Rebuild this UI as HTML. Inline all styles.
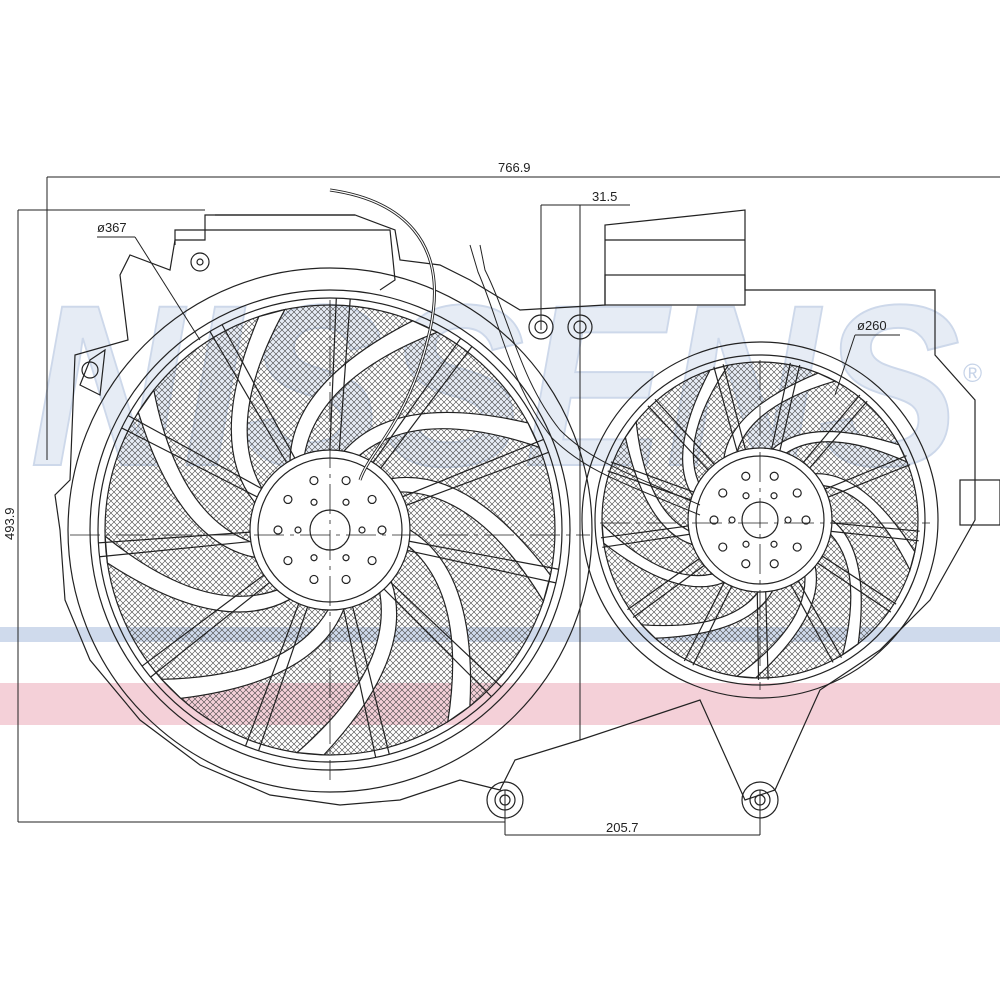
<!DOCTYPE html>
<html><head><meta charset="utf-8"><style>
html,body{margin:0;padding:0;background:#fff;width:1000px;height:1000px;overflow:hidden}
svg{display:block}
text{font-family:"Liberation Sans",sans-serif;fill:#222}
</style></head><body>
<svg id="s" width="1000" height="1000" viewBox="0 0 1000 1000" xmlns="http://www.w3.org/2000/svg">
<defs>
<pattern id="h" width="6" height="6" patternUnits="userSpaceOnUse">
<path d="M0 0L6 6M6 0L0 6" stroke="#444" stroke-width="0.6"/>
</pattern>
</defs>
<text x="30" y="465" font-size="230" font-style="italic" font-weight="bold" stroke="#cdd8ea" stroke-width="2" textLength="930" lengthAdjust="spacingAndGlyphs" style="fill:#e6ecf5">NISSENS</text>
<text x="963" y="382" font-size="26" style="fill:#c6d3e8">®</text>
<rect x="0" y="627" width="1000" height="15" fill="#cfdaec"/>
<rect x="0" y="683" width="1000" height="42" fill="#f4d0d8"/>
<g id="g" fill="none" stroke="#222" stroke-width="1.2"></g>
<g stroke="#222" stroke-width="1" fill="none">
<line x1="47" y1="177" x2="1000" y2="177"/>
<line x1="47" y1="177" x2="47" y2="460"/>
<line x1="18" y1="210" x2="205" y2="210"/>
<line x1="18" y1="210" x2="18" y2="822"/>
<line x1="18" y1="822" x2="505" y2="822"/>
<line x1="541" y1="205" x2="541" y2="330"/>
<line x1="580" y1="205" x2="580" y2="740"/>
<line x1="541" y1="205" x2="630" y2="205"/>
<line x1="505" y1="790" x2="505" y2="835"/>
<line x1="760" y1="790" x2="760" y2="835"/>
<line x1="505" y1="835" x2="760" y2="835"/>
<line x1="97" y1="237" x2="135" y2="237"/>
<line x1="135" y1="237" x2="200" y2="340"/>
<line x1="855" y1="335" x2="900" y2="335"/>
<line x1="855" y1="335" x2="835" y2="395"/>
</g>
<text x="498" y="172" font-size="13">766.9</text>
<text x="592" y="201" font-size="13">31.5</text>
<text x="97" y="232" font-size="13">ø367</text>
<text x="857" y="330" font-size="13">ø260</text>
<text x="606" y="832" font-size="13">205.7</text>
<text x="14" y="540" font-size="13" transform="rotate(-90 14 540)">493.9</text>
</svg>
<script>
var g=document.getElementById('g'),NS="http://www.w3.org/2000/svg";
function el(t,a){var e=document.createElementNS(NS,t);for(var k in a)e.setAttribute(k,a[k]);g.appendChild(e);return e;}
function c(x,y,r,extra){var a={cx:x,cy:y,r:r};for(var k in extra)a[k]=extra[k];return el('circle',a);}
el('path',{d:"M205 215 L205 240 L175 240 L170 270 L130 255 L120 275 L128 340 L75 355 L70 480 L55 495 L60 530 L65 600 L90 660 L140 720 L200 765 L270 795 L340 805 L400 800 L460 780 L500 790 L515 760 L580 740 L640 720 L700 700 L745 800 L775 790 L820 690 L880 650 L930 600 L975 520 L975 400 L935 355 L935 290 L745 290 L745 210 L700 215 L605 225 L605 305 L520 310 L470 280 L440 265 L400 260 L395 230 L355 215 Z"});
el('path',{d:"M90 360 L105 350 L100 395 L80 385 Z"});
c(90,370,8);
var B=[330,530];
c(B[0],B[1],262);c(B[0],B[1],240);c(B[0],B[1],232);
c(B[0],B[1],225,{fill:"url(#h)",stroke:"#222"});
var S=[760,520];
c(S[0],S[1],178);c(S[0],S[1],165);c(S[0],S[1],158,{fill:"url(#h)",stroke:"#222"});
function blades(cx,cy,r0,r1,n,sweep){
 for(var i=0;i<n;i++){
  var a=i*2*Math.PI/n, a2=a+sweep, w=0.12;
  var p=function(r,t){return (cx+r*Math.cos(t)).toFixed(1)+" "+(cy+r*Math.sin(t)).toFixed(1);};
  el('path',{d:"M"+p(r0,a)+" Q"+p((r0+r1)/2,a+sweep*0.3)+" "+p(r1,a2)+" L"+p(r1,a2+w)+" Q"+p((r0+r1)/2,a+sweep*0.3+w*1.5)+" "+p(r0,a+0.2)+" Z",fill:"#fff"});
 }
}
blades(B[0],B[1],80,225,9,0.9);
blades(S[0],S[1],72,158,9,0.9);
function struts(cx,cy,r0,r1,n,off){
 for(var i=0;i<n;i++){var a=off+i*2*Math.PI/n;
  for(var d=-0.03;d<=0.03;d+=0.06){
   el('line',{x1:cx+r0*Math.cos(a+d*2),y1:cy+r0*Math.sin(a+d*2),x2:cx+r1*Math.cos(a+d),y2:cy+r1*Math.sin(a+d)});
  }}
}
struts(B[0],B[1],78,232,11,0.2);
struts(S[0],S[1],70,160,13,0.1);
c(B[0],B[1],80,{fill:"#fff"});c(B[0],B[1],72);c(B[0],B[1],20);
c(S[0],S[1],72,{fill:"#fff"});c(S[0],S[1],64);c(S[0],S[1],18);
function holes(cx,cy,r,n,s){for(var i=0;i<n;i++){var a=i*2*Math.PI/n;c(cx+r*Math.cos(a),cy+r*Math.sin(a),s);}}
holes(B[0],B[1],52,10,4);holes(B[0],B[1],32,6,3);
holes(S[0],S[1],46,10,4);holes(S[0],S[1],28,6,3);
el('line',{x1:70,y1:535,x2:590,y2:535,"stroke-dasharray":"30 6 4 6","stroke-width":0.8});
el('line',{x1:330,y1:300,x2:330,y2:780,"stroke-dasharray":"30 6 4 6","stroke-width":0.8});
el('line',{x1:600,y1:523,x2:930,y2:523,"stroke-dasharray":"30 6 4 6","stroke-width":0.8});
el('line',{x1:760,y1:360,x2:760,y2:690,"stroke-dasharray":"30 6 4 6","stroke-width":0.8});
el('path',{d:"M330 190 C400 200 450 240 430 330 C410 420 370 450 360 480",fill:"none","stroke-width":3});
el('path',{d:"M330 190 C400 200 450 240 430 330 C410 420 370 450 360 480",fill:"none",stroke:"#fff","stroke-width":1.2});
el('path',{d:"M480 245 L485 270 C510 320 520 380 560 430 C590 460 620 470 700 505",fill:"none","stroke-width":1});
el('path',{d:"M470 245 L478 272 C500 322 510 385 552 438 C585 470 615 480 700 515",fill:"none","stroke-width":1});
c(505,800,18);c(505,800,10);c(505,800,5);
c(760,800,18);c(760,800,10);c(760,800,5);
c(541,327,12);c(541,327,6);c(580,327,12);c(580,327,6);
c(200,262,9);c(200,262,3);
el('rect',{x:605,y:275,width:140,height:30});
el('line',{x1:605,y1:240,x2:745,y2:240});
el('rect',{x:960,y:480,width:40,height:45});
el('path',{d:"M175 245 L175 230 L390 230 L395 280 L380 290"});
el('line',{x1:215,y1:215,x2:355,y2:215});
</script>
</body></html>
